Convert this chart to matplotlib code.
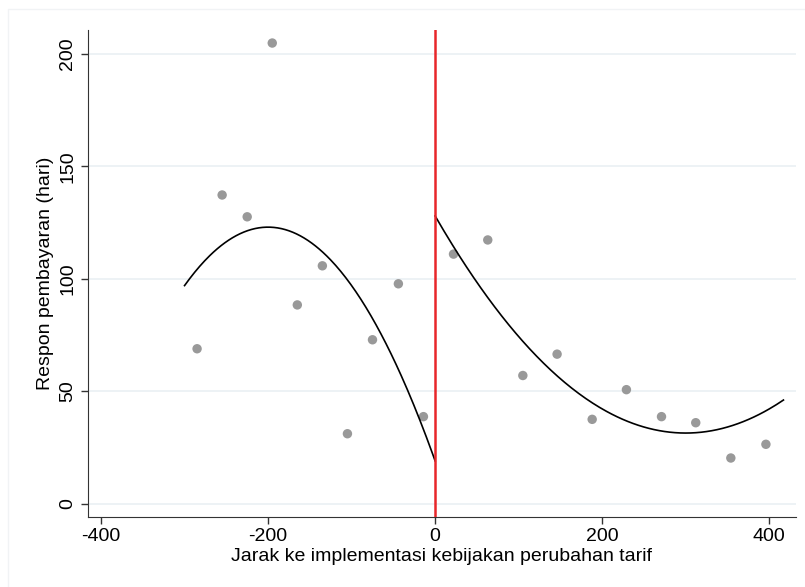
import matplotlib
matplotlib.use("Agg")
import matplotlib.pyplot as plt
import numpy as np

plt.rcParams['font.family'] = ['Liberation Sans', 'DejaVu Sans']
plt.rcParams['axes.unicode_minus'] = False

# binned means, left of cutoff
left_x = [-285, -255, -225, -195, -165, -135, -105, -75, -44, -14]
left_y = [68.9, 137.3, 127.6, 204.9, 88.4, 105.8, 31.1, 72.9, 97.8, 38.7]

# binned means, right of cutoff
right_x = [22, 63, 105, 146, 188, 229, 271, 312, 354, 396]
right_y = [111.0, 117.3, 57.0, 66.5, 37.5, 50.7, 38.7, 36.0, 20.3, 26.4]

# quadratic fits: (x range, vertex x, vertex y, curvature)
left_fit = (-300, 0, -200, 123.0, -0.0026)
right_fit = (0, 417, 300, 31.4, 0.001073)

x_ticks = [-400, -200, 0, 200, 400]
y_ticks = [0, 50, 100, 150, 200]
x_label = "Jarak ke implementasi kebijakan perubahan tarif"
y_label = "Respon pembayaran (hari)"


def quad(fit):
    x0, x1, vx, vy, a = fit
    xs = np.linspace(x0, x1, 200)
    return xs, vy + a * (xs - vx) ** 2


fig = plt.figure(figsize=(8.05, 5.87), dpi=100)
ax = fig.add_axes([0.1093, 0.1198, 0.8795, 0.8291])

for yt in y_ticks:
    ax.axhline(yt, color='#eaf0f4', lw=1.2, zorder=0)

ax.scatter(left_x, left_y, s=46, color='#999999', edgecolors='none', zorder=2)
ax.scatter(right_x, right_y, s=46, color='#999999', edgecolors='none', zorder=2)

xs, ys = quad(left_fit)
ax.plot(xs, ys, color='black', lw=1.2, zorder=3)
xs, ys = quad(right_fit)
ax.plot(xs, ys, color='black', lw=1.2, zorder=3)

ax.axvline(0, color='#e8262a', lw=1.8, zorder=4)

ax.set_xlim(-415.6, 432)
ax.set_ylim(-5.8, 210.7)
ax.set_xticks(x_ticks)
ax.set_yticks(y_ticks)
ax.tick_params(axis='both', direction='out', length=5, width=1, labelsize=14, colors='#333333', labelcolor='black')
for lab in ax.get_yticklabels():
    lab.set_rotation(90)
    lab.set_va('center')

ax.set_xlabel(x_label, fontsize=14, labelpad=2)
ax.set_ylabel(y_label, fontsize=14, labelpad=4)

ax.spines['top'].set_visible(False)
ax.spines['right'].set_visible(False)
ax.spines['left'].set_color('#333333')
ax.spines['bottom'].set_color('#333333')

# faint graph-region edge, only top and left show in the crop
fig.add_artist(plt.Line2D([0.0103, 0.0103, 1.0], [0.0, 0.984, 0.984], transform=fig.transFigure,
                          color='#f1f3f5', lw=1))

fig.savefig("out.png", dpi=100)
